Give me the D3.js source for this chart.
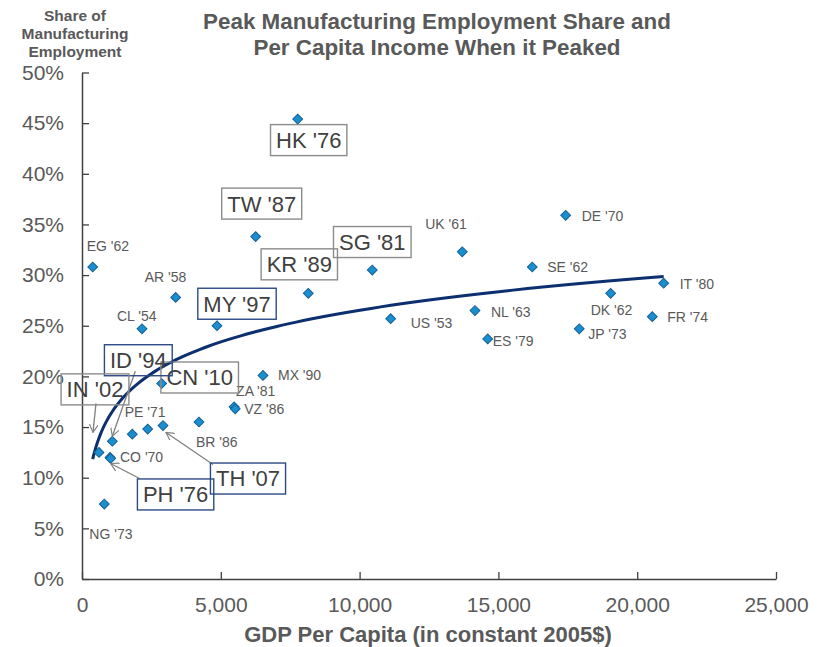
<!DOCTYPE html>
<html>
<head>
<meta charset="utf-8">
<script src="https://cdn.jsdelivr.net/npm/d3@7"></script>
<style>
  body { margin: 0; background: #fff; }
  text { font-family: "Liberation Sans", Arial, sans-serif; }
</style>
</head>
<body>
<div id="chart"></div>
<script>
// data
var countries = ["HK '76", "TW '87", "EG '62", "AR '58", "CL '54", "MY '97", "KR '89", "SG '81",
  "US '53", "UK '61", "NL '63", "ES '79", "SE '62", "DE '70", "DK '62", "JP '73", "IT '80", "FR '74",
  "MX '90", "CN '10", "ZA '81", "VZ '86", "BR '86", "TH '07", "PE '71", "", "ID '94", "IN '02",
  "CO '70", "PH '76", "NG '73"];
var gdpPerCapita = [7770, 6257, 385, 3375, 2161, 4863, 8152, 10457,
  11119, 13698, 14156, 14614, 16220, 17423, 19044, 17913, 20953, 20543,
  6520, 2871, 5480, 5520, 4214, 2918, 2366, 1812, 1092, 612,
  1009, 1030, 804];
var mfgShare = [45.4, 33.8, 30.8, 27.8, 24.7, 25.0, 28.2, 30.5,
  25.7, 32.3, 26.5, 23.7, 30.8, 35.9, 28.2, 24.7, 29.2, 25.9,
  20.1, 19.3, 17.0, 16.8, 15.5, 15.15, 14.8, 14.3, 13.6, 12.5,
  12.0, 11.9, 7.4];
var xTicks = [0, 5000, 10000, 15000, 20000, 25000];
var yTicks = [0, 5, 10, 15, 20, 25, 30, 35, 40, 45, 50];

// label placement (pixel offsets from the point)
var smallLabels = {
  "EG '62": [-6, -16], "AR '58": [-31, -15], "CL '54": [-25, -8], "MX '90": [15, 5],
  "ZA '81": [2, -11], "VZ '86": [9, 5], "PE '71": [-23, -12], "BR '86": [-3, 25],
  "CO '70": [10, 5], "NG '73": [-15, 35], "UK '61": [-37, -23], "DE '70": [16, 6],
  "SE '62": [15, 5], "IT '80": [16, 6], "DK '62": [-20, 22], "FR '74": [15, 5],
  "JP '73": [9, 10], "NL '63": [16, 6], "US '53": [20, 9], "ES '79": [5, 7]
};
var boxLabels = {
  "HK '76": [11, 21, "#8c8c8c"], "TW '87": [6, -33, "#8c8c8c"], "KR '89": [-9, -29, "#8c8c8c"],
  "SG '81": [0, -28, "#8c8c8c"], "MY '97": [20, -22, "#2d4a85"], "ID '94": [26, -81, "#2d4a85"],
  "CN '10": [38, -6, "#8c8c8c"], "IN '02": [-4, -63, "#8c8c8c"], "TH '07": [85, 53, "#2d4a85"],
  "PH '76": [65, 36, "#2d4a85"]
};
var arrows = {
  "IN '02": [[-3, -49], [-6, -20]],
  "ID '94": [[23, -70], [0, -5]],
  "TH '07": [[50, 39], [3, 7]],
  "PH '76": [[29, 20], [0, 5]]
};

var width = 823, height = 647;
var margin = {top: 72.5, right: 47, bottom: 68, left: 82};

var svg = d3.select("#chart")
  .append("svg")
  .attr("width", width)
  .attr("height", height);

var x = d3.scaleLinear().domain([0, 25000]).range([margin.left, width - margin.right]);
var y = d3.scaleLinear().domain([0, 50]).range([height - margin.bottom, margin.top]);

var points = countries.map(function (c, i) {
  return {name: c, gdp: gdpPerCapita[i], share: mfgShare[i]};
});

// titles
var title = svg.append("text")
  .attr("text-anchor", "middle")
  .attr("fill", "#595959")
  .attr("font-weight", "bold")
  .attr("font-size", "22.4px");
title.append("tspan").attr("x", 437).attr("y", 29).text("Peak Manufacturing Employment Share and");
title.append("tspan").attr("x", 437).attr("y", 55).text("Per Capita Income When it Peaked");

var yTitle = svg.append("text")
  .attr("text-anchor", "middle")
  .attr("fill", "#595959")
  .attr("font-weight", "bold")
  .attr("font-size", "15.5px");
["Share of", "Manufacturing", "Employment"].forEach(function (t, i) {
  yTitle.append("tspan").attr("x", 75).attr("y", 21 + i * 18).text(t);
});

svg.append("text")
  .attr("x", 428)
  .attr("y", 642)
  .attr("text-anchor", "middle")
  .attr("fill", "#595959")
  .attr("font-weight", "bold")
  .attr("font-size", "22px")
  .text("GDP Per Capita (in constant 2005$)");

// axes
var xAxis = svg.append("g")
  .attr("transform", "translate(0," + y(0) + ")")
  .call(d3.axisBottom(x).tickValues(xTicks).tickFormat(d3.format(","))
    .tickSizeInner(-7).tickSizeOuter(0).tickPadding(18));
var yAxis = svg.append("g")
  .attr("transform", "translate(" + x(0) + ",0)")
  .call(d3.axisLeft(y).tickValues(yTicks).tickFormat(function (d) { return d + "%"; })
    .tickSizeInner(-7).tickSizeOuter(0).tickPadding(18));
[xAxis, yAxis].forEach(function (a) {
  a.select(".domain").attr("stroke", "#404040").attr("stroke-width", 1.5);
  a.selectAll(".tick line").attr("stroke", "#404040").attr("stroke-width", 1.3);
  a.selectAll(".tick text")
    .attr("fill", "#595959")
    .attr("font-size", "21px")
    .attr("font-family", "\"Liberation Sans\", Arial, sans-serif");
});

// logarithmic trend line fitted to the points
var lnx = points.map(function (d) { return Math.log(d.gdp); });
var mx = d3.mean(lnx), my = d3.mean(mfgShare);
var sxy = d3.sum(points, function (d, i) { return (lnx[i] - mx) * (d.share - my); });
var sxx = d3.sum(lnx, function (v) { return (v - mx) * (v - mx); });
var slope = sxy / sxx, intercept = my - slope * mx;
var lo = d3.min(gdpPerCapita), hi = d3.max(gdpPerCapita);
var trend = d3.range(0, 121).map(function (i) {
  var g = lo * Math.pow(hi / lo, i / 120);
  return [g, intercept + slope * Math.log(g)];
});
svg.append("path")
  .datum(trend)
  .attr("fill", "none")
  .attr("stroke", "#0b2f6f")
  .attr("stroke-width", 3)
  .attr("d", d3.line()
    .x(function (d) { return x(d[0]); })
    .y(function (d) { return y(d[1]); }));

// markers
svg.append("g")
  .selectAll("path")
  .data(points)
  .enter().append("path")
  .attr("d", d3.symbol().type(d3.symbolSquare).size(48))
  .attr("transform", function (d) { return "translate(" + x(d.gdp) + "," + y(d.share) + ") rotate(45)"; })
  .attr("fill", "#1a8fd0")
  .attr("stroke", "#155f95")
  .attr("stroke-width", 1);

// small labels
svg.append("g")
  .selectAll("text")
  .data(points.filter(function (d) { return smallLabels[d.name]; }))
  .enter().append("text")
  .attr("x", function (d) { return x(d.gdp) + smallLabels[d.name][0]; })
  .attr("y", function (d) { return y(d.share) + smallLabels[d.name][1]; })
  .attr("fill", "#595959")
  .attr("font-size", "14px")
  .text(function (d) { return d.name; });

// arrows
svg.append("defs").append("marker")
  .attr("id", "head")
  .attr("viewBox", "0 0 10 10")
  .attr("refX", 9).attr("refY", 5)
  .attr("markerWidth", 9).attr("markerHeight", 9)
  .attr("markerUnits", "userSpaceOnUse")
  .attr("orient", "auto")
  .append("path")
  .attr("d", "M0,0L9,5L0,10")
  .attr("fill", "none")
  .attr("stroke", "#7f7f7f")
  .attr("stroke-width", 1.3);

svg.append("g")
  .selectAll("line")
  .data(points.filter(function (d) { return arrows[d.name]; }))
  .enter().append("line")
  .attr("x1", function (d) { return x(d.gdp) + arrows[d.name][0][0]; })
  .attr("y1", function (d) { return y(d.share) + arrows[d.name][0][1]; })
  .attr("x2", function (d) { return x(d.gdp) + arrows[d.name][1][0]; })
  .attr("y2", function (d) { return y(d.share) + arrows[d.name][1][1]; })
  .attr("stroke", "#7f7f7f")
  .attr("stroke-width", 1.3)
  .attr("marker-end", "url(#head)");

// boxed labels
var boxes = svg.append("g")
  .selectAll("g")
  .data(points.filter(function (d) { return boxLabels[d.name]; }))
  .enter().append("g")
  .attr("transform", function (d) {
    return "translate(" + (x(d.gdp) + boxLabels[d.name][0]) + "," + (y(d.share) + boxLabels[d.name][1]) + ")";
  });
boxes.append("rect");
boxes.append("text")
  .attr("text-anchor", "middle")
  .attr("dy", "0.36em")
  .attr("fill", "#404040")
  .attr("font-size", "22px")
  .text(function (d) { return d.name; });
boxes.each(function (d) {
  var g = d3.select(this);
  var w = g.select("text").node().getComputedTextLength() + 11;
  g.select("rect")
    .attr("x", -w / 2).attr("y", -15.5)
    .attr("width", w).attr("height", 31)
    .attr("fill", "none")
    .attr("stroke", boxLabels[d.name][2])
    .attr("stroke-width", 1.4);
});
</script>
</body>
</html>
